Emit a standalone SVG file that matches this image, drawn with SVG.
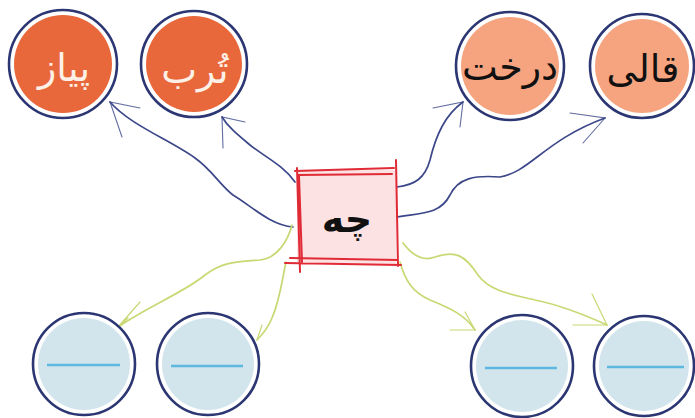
<svg xmlns="http://www.w3.org/2000/svg" width="695" height="418" viewBox="0 0 695 418">
<style>
.ring{fill:#fff;stroke:#2B3672;stroke-width:2.6}
.or{fill:#E9683B}
.lo{fill:#F6A47F}
.bl{fill:#D2E4EC}
.dash{stroke:#5CB8DF;stroke-width:2.6;fill:none}
.blue{fill:none;stroke:#3B4789;stroke-width:1.7;stroke-linecap:round}
.blueh{fill:none;stroke:#3B4789;stroke-width:1.1;stroke-linecap:round;opacity:.8}
.green{fill:none;stroke:#C9D873;stroke-width:1.7;stroke-linecap:round}
.greenh{fill:none;stroke:#C9D873;stroke-width:1.2;stroke-linecap:round}
.red{fill:none;stroke:#E02A36;stroke-width:2;stroke-linecap:round}
.t{font-family:"DejaVu Sans",sans-serif;font-size:38px;text-anchor:middle}
</style>
<rect width="695" height="418" fill="#fff"/>
<g id="connectors">
<path class="blue" d="M293,227 C270,225 250,205 233,195 C220,185 212,170 195,158 C170,140 130,125 110,102"/>
<path class="blueh" d="M140,108 L110,102 L122,137"/>
<path class="blue" d="M295,182 C283,165 265,157 250,145 C238,135 228,127 222,117"/>
<path class="blueh" d="M245,122 L222,117 L223,148"/>
<path class="blue" d="M397,187 C415,185 425,178 430,160 C436,135 445,115 463,102"/>
<path class="blueh" d="M433,108 L463,102 L460,127"/>
<path class="blue" d="M397,217 C420,213 440,215 450,195 C458,178 475,175 500,177 C530,172 545,140 605,118"/>
<path class="blueh" d="M570,113 L605,118 L583,143"/>
<path class="green" d="M292,225 C288,240 278,258 260,260 C235,262 222,262 205,275 C185,292 150,305 118,327"/>
<path class="greenh" d="M140,302 L118,327 L128,318"/>
<path class="green" d="M286,262 C282,280 280,300 272,318 C268,328 262,335 257,340"/>
<path class="greenh" d="M262,325 L257,340"/>
<path class="green" d="M400,262 C405,280 412,292 430,300 C450,308 465,315 475,330"/>
<path class="greenh" d="M450,330 L475,330 L465,312"/>
<path class="green" d="M403,243 C412,255 422,262 435,257 C455,250 465,255 478,275 C490,292 515,295 535,300 C560,305 585,315 607,325"/>
<path class="greenh" d="M573,325 L607,325 L592,294"/>
</g>
<g id="node-piyaz">
<circle class="ring" cx="63" cy="64" r="54"/>
<circle class="or" cx="63" cy="64" r="49"/>
<text class="t" x="64" y="81" fill="#FDF0E6">پیاز</text>
</g>
<g id="node-torb">
<circle class="ring" cx="194" cy="64" r="53"/>
<circle class="or" cx="194" cy="64" r="48"/>
<text class="t" x="195" y="83" fill="#FDF0E6">تُرب</text>
</g>
<g id="node-derakht">
<circle class="ring" cx="510" cy="66" r="54"/>
<circle class="lo" cx="510" cy="66" r="49"/>
<text class="t" x="510" y="80" fill="#111" font-size="31">درخت</text>
</g>
<g id="node-qali">
<circle class="ring" cx="642" cy="66" r="52"/>
<circle class="lo" cx="642" cy="66" r="47"/>
<text class="t" x="643" y="82" fill="#111" font-size="36">قالی</text>
</g>
<g id="node-che">
<rect x="297" y="170" width="99" height="94" fill="#FCE2E2"/>
<path class="red" d="M295,171 L394,168 M297,168 L300,272 M396,160 L398,266 M285,263 L401,265 M298,175 L392,174 M299,176 L302,262 M290,258 L398,260"/>
<text class="t" x="347" y="232" fill="#111" font-size="34" font-weight="bold">چه</text>
</g>
<g id="node-b1">
<circle class="ring" cx="84" cy="364" r="51"/>
<circle class="bl" cx="84" cy="364" r="46"/>
<path class="dash" d="M47,365 H120"/>
</g>
<g id="node-b2">
<circle class="ring" cx="208" cy="364" r="51"/>
<circle class="bl" cx="208" cy="364" r="46"/>
<path class="dash" d="M171,366 H243"/>
</g>
<g id="node-b3">
<circle class="ring" cx="522" cy="366" r="51"/>
<circle class="bl" cx="522" cy="366" r="46"/>
<path class="dash" d="M485,368 H557"/>
</g>
<g id="node-b4">
<circle class="ring" cx="644" cy="366" r="50"/>
<circle class="bl" cx="644" cy="366" r="45"/>
<path class="dash" d="M607,367 H684"/>
</g>
</svg>
